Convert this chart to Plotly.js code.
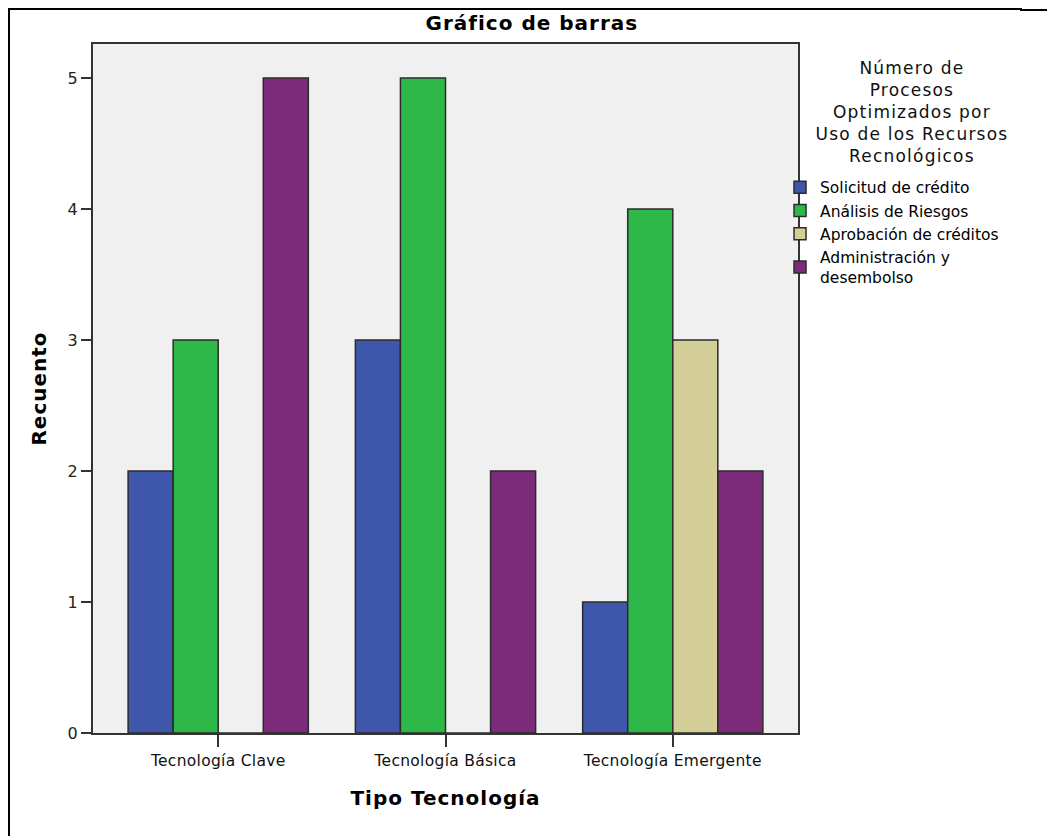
<!DOCTYPE html>
<html>
<head>
<meta charset="utf-8">
<script src="https://cdn.plot.ly/plotly-3.0.1.min.js"></script>
<style>
  html, body { margin: 0; padding: 0; background: #fff; }
  #wrap { position: relative; width: 1047px; height: 836px; }
  #chart { position: absolute; left: 0; top: 0; width: 1047px; height: 836px; }
  .frame-left { position: absolute; left: 8px; top: 8px; width: 2px; height: 828px; background: #000; }
  .frame-top { position: absolute; left: 8px; top: 8px; width: 1014px; height: 2px; background: #000; }
  .frame-top2 { position: absolute; left: 1020px; top: 9px; width: 27px; height: 2px; background: #000; }
  /* the original labels are wider than any installed face */
  #chart .gtitle { letter-spacing: 1px; }
  #chart .xtitle, #chart .ytitle { letter-spacing: 1px; }
  #chart .annotation-text { letter-spacing: 1.2px; }
  #chart .xtick text { letter-spacing: 0.3px; }
</style>
</head>
<body>
<div id="wrap">
  <div id="chart"></div>
  <div class="frame-left"></div>
  <div class="frame-top"></div>
  <div class="frame-top2"></div>
</div>
<script>
document.addEventListener('DOMContentLoaded', () => {

    // --- Data ---
    const categories = ['Tecnología Clave', 'Tecnología Básica', 'Tecnología Emergente'];
    const seriesNames = [
        'Solicitud de crédito',
        'Análisis de Riesgos',
        'Aprobación de créditos',
        'Administración y<br>desembolso'
    ];
    const solicitud = [2, 3, 1];
    const analisis = [3, 5, 4];
    const aprobacion = [0, 0, 3];
    const administracion = [5, 2, 2];
    const yTicks = [0, 1, 2, 3, 4, 5];
    const legendTitle = 'Número de<br>Procesos<br>Optimizados por<br>Uso de los Recursos<br>Recnológicos';

    const colors = ['#3E57AB', '#2FB84A', '#D4CE98', '#7C2A7A'];
    const allValues = [solicitud, analisis, aprobacion, administracion];

    const font = 'DejaVu Sans, Verdana, sans-serif';

    const traces = allValues.map((vals, i) => ({
        type: 'bar',
        x: categories,
        y: vals,
        name: seriesNames[i],
        marker: { color: colors[i], line: { color: '#2b2b2b', width: 1.5 } },
        hoverinfo: 'x+y+name'
    }));

    const layout = {
        width: 1047,
        height: 836,
        paper_bgcolor: 'rgba(0,0,0,0)',
        plot_bgcolor: '#F0F0F0',
        font: { family: font, color: '#000' },
        margin: { l: 93, r: 249, t: 44, b: 103, pad: 0 },
        barmode: 'group',
        bargap: 0.207,
        bargroupgap: 0,
        title: {
            text: '<b>Gráfico de barras</b>',
            font: { size: 20, family: font, color: '#000' },
            x: 0.508, xref: 'container', xanchor: 'center',
            y: 0.9725, yref: 'container', yanchor: 'middle'
        },
        xaxis: {
            type: 'category',
            range: [-0.551, 2.551],
            showline: true, linecolor: '#333', linewidth: 2, mirror: true,
            ticks: 'outside', ticklen: 12, tickwidth: 2, tickcolor: '#333',
            tickfont: { size: 15.5, family: font, color: '#111' },
            showgrid: false, zeroline: false,
            title: { text: '<b>Tipo Tecnología</b>', font: { size: 20, family: font }, standoff: 22 }
        },
        yaxis: {
            range: [0, 5.26],
            tickvals: yTicks,
            showline: true, linecolor: '#333', linewidth: 2, mirror: true,
            ticks: 'outside', ticklen: 10, tickwidth: 2, tickcolor: '#333',
            tickfont: { size: 16, family: font, color: '#222' },
            showgrid: false, zeroline: false,
            title: { text: '<b>Recuento</b>', font: { size: 20, family: font }, standoff: 16 }
        },
        legend: {
            x: 0.9745, xanchor: 'left', y: 0.816, yanchor: 'top',
            bgcolor: 'rgba(0,0,0,0)',
            font: { size: 15.5, family: font, color: '#000' },
            itemwidth: 30,
            traceorder: 'normal'
        },
        annotations: [{
            text: legendTitle,
            xref: 'paper', yref: 'paper',
            x: 1.1617, xanchor: 'center',
            y: 0.983, yanchor: 'top',
            showarrow: false,
            align: 'center',
            font: { size: 17, family: font, color: '#111' }
        }],
        showlegend: true
    };

    Plotly.newPlot('chart', traces, layout, { displayModeBar: false });
});
</script>
</body>
</html>
